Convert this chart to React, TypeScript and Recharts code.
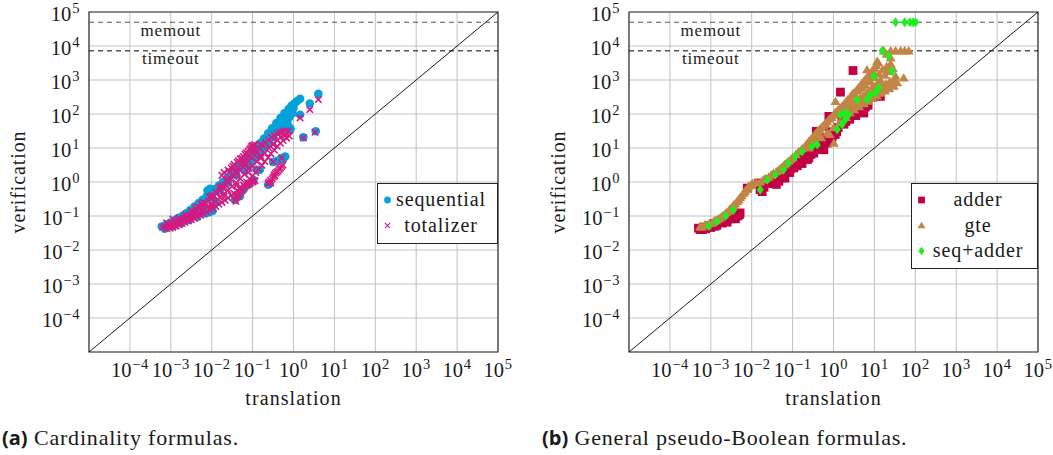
import React from "react";
import {
  ScatterChart,
  Scatter,
  XAxis,
  YAxis,
  CartesianGrid,
  ReferenceLine,
  ReferenceArea,
} from "recharts";

// axis decades (both axes are log10, 1e-5 .. 1e5)
const DOMAIN: [number, number] = [1e-5, 1e5];
const DECADES = [1e-4, 1e-3, 1e-2, 1e-1, 1, 1e1, 1e2, 1e3, 1e4, 1e5];
const TIMEOUT = 7200;
const MEMOUT = 50000;
const LIMIT_LABEL_AT = 1e-3;

// (a) cardinality formulas: [translation, verification] in seconds
const sequential: [number, number][] = [
  [6.0e-4, 0.049], [7.6e-4, 0.055], [9.5e-4, 0.063], [1.2e-3, 0.074], [1.5e-3, 0.087],
  [1.9e-3, 0.1], [2.4e-3, 0.12], [3.0e-3, 0.15], [3.8e-3, 0.19], [4.8e-3, 0.24],
  [6.0e-3, 0.3], [7.6e-3, 0.38], [9.5e-3, 0.48], [0.012, 0.62], [0.015, 0.79],
  [0.019, 1.02], [0.024, 1.32], [0.03, 1.7], [0.038, 2.2], [0.048, 2.9],
  [0.06, 3.8], [0.076, 5.0], [0.095, 6.8], [0.12, 9.5], [0.15, 13.5],
  [0.19, 19], [0.24, 27], [0.3, 38], [0.38, 54], [0.48, 76],
  [0.6, 105], [0.76, 141], [0.89, 174], [1.05, 204], [1.23, 240], [1.45, 282],
  [1.58e-3, 0.076], [2.5e-3, 0.105], [4.0e-3, 0.15], [6.3e-3, 0.22], [0.01, 0.355],
  [0.0158, 0.575], [0.025, 0.95], [0.04, 1.58], [0.063, 2.7],
  [0.063, 2.2], [0.079, 2.95], [0.1, 4.0], [0.126, 5.5], [0.158, 7.6],
  [0.2, 10.5], [0.25, 14.8], [0.32, 21], [0.4, 30], [0.5, 42],
  [0.63, 59], [0.79, 79], [0.95, 105], [0.68, 56], [0.72, 50], [0.8, 40], [0.85, 36],
  [0.14, 11], [0.22, 16], [0.35, 32], [0.55, 65], [0.7, 90], [0.85, 120], [1.0, 150],
  [0.17, 15], [0.27, 24], [0.43, 45], [0.6, 75], [0.9, 130],
  [7.1e-4, 0.042], [1.12e-3, 0.05], [1.78e-3, 0.06], [2.8e-3, 0.076], [4.5e-3, 0.095],
  [7.1e-3, 0.12], [8.7e-3, 0.13], [0.0105, 0.14], [0.0126, 0.25], [9.1e-3, 0.63], [7.9e-3, 0.56],
  [0.037, 0.3], [0.049, 0.38], [0.06, 0.6], [0.08, 0.85], [0.105, 1.17], [0.126, 2.3], [0.15, 2.3],
  [0.24, 0.83], [0.26, 0.87], [0.32, 3.9], [0.4, 4.2], [0.51, 5.1], [0.56, 4.8], [0.63, 5.6],
  [4.05, 390], [2.5, 203], [1.45, 95], [3.5, 31], [1.74, 20.6],
];

const totalizer: [number, number][] = [
  [6.3e-4, 0.047], [7.4e-4, 0.049], [8.7e-4, 0.052], [1.02e-3, 0.056], [1.2e-3, 0.06],
  [1.41e-3, 0.066], [1.66e-3, 0.072], [1.95e-3, 0.079], [2.3e-3, 0.089], [2.7e-3, 0.1],
  [3.2e-3, 0.112], [3.7e-3, 0.129], [4.4e-3, 0.148], [5.1e-3, 0.17], [6.0e-3, 0.2],
  [7.1e-3, 0.234], [8.3e-3, 0.275], [9.8e-3, 0.32], [0.0115, 0.39], [0.0135, 0.47],
  [0.0158, 0.56], [0.0186, 0.68], [0.0219, 0.81], [0.0257, 1.0], [0.03, 1.2],
  [0.035, 1.48], [0.042, 1.82], [0.049, 2.24], [0.058, 2.75], [0.068, 3.4],
  [0.079, 4.2], [0.093, 5.1], [0.11, 6.3], [0.129, 7.8], [0.151, 9.5],
  [0.178, 11.7], [0.209, 14.5], [0.245, 17.4], [0.288, 20.4], [0.339, 23.4],
  [0.4, 26.3], [0.468, 28.8], [0.55, 30.9], [0.646, 31.6], [0.74, 30.9],
  [7.9e-4, 0.063], [1.12e-3, 0.081], [1.58e-3, 0.087], [2.24e-3, 0.11], [3.16e-3, 0.141],
  [4.5e-3, 0.19], [5.6e-3, 0.23], [8.9e-3, 0.37], [0.0126, 0.51], [0.0178, 0.79],
  [0.0224, 1.1], [0.0316, 1.66], [0.0447, 2.63], [0.056, 3.55], [0.079, 5.5],
  [0.112, 8.3], [0.158, 12.6],
  [1.58e-3, 0.062], [2.0e-3, 0.071], [2.5e-3, 0.079], [3.2e-3, 0.093], [4.0e-3, 0.11],
  [5.0e-3, 0.132], [6.3e-3, 0.155], [7.9e-3, 0.186], [0.01, 0.23], [0.0126, 0.275],
  [0.0158, 0.355], [0.02, 0.45], [0.025, 0.575], [0.0316, 0.74], [0.04, 0.95],
  [0.05, 1.26], [0.063, 1.7], [0.079, 2.5], [0.1, 2.95], [0.126, 4.0],
  [0.158, 5.9], [0.2, 7.1], [0.25, 10], [0.316, 13.2], [0.4, 17], [0.5, 21.4], [0.63, 25],
  [4.0e-3, 0.166], [6.3e-3, 0.25], [0.01, 0.4], [0.0158, 0.71], [0.025, 1.2],
  [0.04, 2.14], [0.063, 4.0], [0.1, 7.6],
  [7.9e-4, 0.042], [1.12e-3, 0.047], [1.58e-3, 0.055], [2.2e-3, 0.065], [3.2e-3, 0.078],
  [4.5e-3, 0.095], [6.3e-3, 0.117], [8.9e-3, 0.148], [0.0126, 0.19], [0.0178, 0.25],
  [0.025, 0.34], [0.035, 0.47], [0.05, 0.68], [0.071, 1.0], [0.1, 1.5],
  [0.141, 2.4], [0.2, 4.0], [0.28, 6.8], [0.4, 11.2], [0.56, 16.6], [0.79, 22.4],
  [9.5e-4, 0.044], [1.35e-3, 0.05], [1.9e-3, 0.06], [2.7e-3, 0.071], [3.8e-3, 0.085],
  [5.4e-3, 0.105], [7.6e-3, 0.132], [0.0107, 0.166], [0.015, 0.22], [0.0214, 0.29],
  [0.03, 0.4], [0.0427, 0.56], [0.06, 0.81], [0.085, 1.23], [0.12, 1.9],
  [0.17, 3.1], [0.24, 5.2], [0.34, 8.7], [0.48, 13.8], [0.68, 19.5],
  [1.26e-3, 0.052], [2.5e-3, 0.076], [5.0e-3, 0.117], [0.01, 0.2], [0.02, 0.38],
  [0.04, 0.79], [0.079, 1.9], [0.158, 5.0], [0.32, 12.6], [0.63, 25],
  [0.0178, 1.58], [0.025, 2.24], [0.035, 3.3], [0.05, 4.8], [0.071, 7.2], [0.095, 11.2], [0.112, 12.6],
  [0.03, 2.6], [0.042, 3.8], [0.06, 5.6], [0.085, 9.0],
  [0.02, 1.9], [0.028, 2.0], [0.033, 2.9], [0.045, 4.2], [0.055, 5.0], [0.065, 6.6],
  [0.078, 8.0], [0.09, 10.0], [0.1, 12], [0.105, 9.5],
  [0.037, 0.3], [0.04, 0.35], [0.044, 0.38], [0.051, 0.5], [0.06, 0.63], [0.071, 0.79],
  [0.083, 0.91], [0.1, 1.0], [0.115, 1.1],
  [0.039, 0.27], [0.042, 0.42], [0.047, 0.44], [0.055, 0.55], [0.065, 0.72], [0.077, 0.85],
  [0.09, 0.95], [0.105, 1.05],
  [0.24, 0.89], [0.275, 1.12], [0.32, 1.4], [0.36, 1.8], [0.42, 2.1], [0.48, 2.6],
  [0.55, 3.2], [0.32, 3.9], [0.51, 5.1],
  [0.25, 1.0], [0.28, 0.95], [0.3, 1.25], [0.34, 1.6], [0.35, 1.5], [0.39, 1.95],
  [0.45, 2.35], [0.52, 2.9],
  [4.05, 266], [2.5, 135], [1.45, 77], [3.36, 29], [1.74, 19.8],
];

// (b) general pseudo-Boolean formulas
const adder: [number, number][] = [
  [5.0e-4, 0.044], [6.6e-4, 0.047], [8.9e-4, 0.052], [1.2e-3, 0.06], [1.58e-3, 0.071],
  [2.1e-3, 0.083], [2.75e-3, 0.1], [3.5e-3, 0.112], [4.4e-3, 0.12], [5.2e-3, 0.123],
  [6.3e-4, 0.04], [1.26e-3, 0.05], [2.5e-3, 0.066], [4.0e-3, 0.083],
  [5.5e-4, 0.04], [7.5e-4, 0.042], [1.0e-3, 0.046], [1.4e-3, 0.053], [1.9e-3, 0.062],
  [2.4e-3, 0.072], [3.0e-3, 0.082], [3.8e-3, 0.092], [4.6e-3, 0.1], [5.0e-3, 0.11],
  [7.8e-3, 0.66], [0.0148, 0.93], [0.016, 0.6], [0.018, 0.52], [0.026, 1.17], [0.04, 0.85],
  [0.046, 1.05], [0.06, 1.5], [0.074, 2.0], [0.09, 2.5], [0.107, 2.6], [0.117, 4.1],
  [0.14, 4.0], [0.186, 6.3], [0.2, 6.0], [0.23, 4.6], [0.25, 5.1], [0.3, 9.0], [0.33, 7.1],
  [0.275, 12.6], [0.4, 11.2], [0.45, 15], [0.58, 8.9], [0.6, 20], [0.8, 30], [0.93, 22],
  [0.02, 0.7], [0.03, 0.9], [0.035, 1.3], [0.055, 1.6], [0.065, 1.3], [0.085, 1.9],
  [0.1, 3.2], [0.13, 3.0], [0.16, 4.5], [0.17, 3.5], [0.22, 7.5], [0.28, 6.5], [0.35, 9.5],
  [0.5, 12], [0.5, 9], [0.7, 14], [0.9, 18], [1.1, 25], [1.3, 40], [1.6, 60], [2.0, 60],
  [2.2, 90], [3.0, 110], [4.0, 130], [5.0, 150], [7.0, 180],
  [1.2, 30], [1.78, 77], [1.8, 50], [2.5, 70], [3.5, 90], [4.6, 170], [5.5, 107], [6.0, 160],
  [14, 330], [0.38, 31], [0.77, 85], [1.48, 440], [3.0, 1900],
];

const gte: [number, number][] = [
  [5.5e-4, 0.049], [7.1e-4, 0.054], [9.1e-4, 0.06], [1.17e-3, 0.069], [1.5e-3, 0.081],
  [1.9e-3, 0.1], [2.4e-3, 0.126], [2.95e-3, 0.162], [3.6e-3, 0.21], [4.4e-3, 0.27],
  [5.2e-3, 0.35], [6.3e-3, 0.47], [7.4e-3, 0.6], [8.5e-3, 0.76], [0.0105, 0.91],
  [6.0e-4, 0.047], [8.0e-4, 0.052], [1.05e-3, 0.062], [1.35e-3, 0.073], [1.7e-3, 0.088],
  [2.15e-3, 0.11], [2.7e-3, 0.14], [3.3e-3, 0.18], [4.0e-3, 0.23], [4.8e-3, 0.3],
  [5.7e-3, 0.4], [6.8e-3, 0.52], [8.0e-3, 0.66], [9.5e-3, 0.8],
  [0.022, 1.26], [0.03, 1.6], [0.04, 2.0], [0.05, 2.5], [0.063, 3.2], [0.08, 4.1], [0.1, 5.2],
  [0.141, 7.9], [0.2, 11.2], [0.25, 15.8], [0.32, 22], [0.4, 30], [0.5, 40],
  [0.63, 52], [0.79, 71], [1.0, 93], [1.26, 126], [1.58, 166], [2.0, 224],
  [2.5, 300], [3.2, 417], [4.0, 575], [5.0, 794], [6.3, 1120], [7.9, 1580], [10, 2240], [12.6, 3160],
  [0.013, 0.95], [0.016, 1.0], [0.019, 1.15], [0.026, 1.4], [0.034, 1.8], [0.045, 2.2],
  [0.056, 2.8], [0.07, 3.6], [0.09, 4.6], [0.12, 6.5], [0.17, 9.5], [0.22, 13], [0.28, 18],
  [0.36, 26], [0.45, 35], [0.56, 46], [0.7, 60], [0.9, 80], [1.1, 110], [1.4, 145],
  [1.8, 195], [2.2, 260], [2.8, 360], [3.6, 490], [4.5, 680], [5.6, 950], [7.1, 1350],
  [8.9, 1900], [11, 2700],
  [0.25, 10], [0.355, 14], [0.5, 20], [0.71, 28], [1.0, 40], [1.41, 56], [2.0, 79],
  [1.02, 14], [0.8, 25],
  [2.5, 110], [3.2, 135], [4.2, 165], [5.5, 200], [7, 240], [9, 290], [11.5, 340],
  [14.5, 410], [18, 480], [23, 560], [30, 660], [36, 830],
  [1.5, 100], [1.8, 130], [2.2, 160], [2.8, 190], [3.5, 230], [4.5, 300], [6, 350],
  [7.5, 400], [9.5, 480], [12, 560], [15, 650], [19, 760], [24, 900], [30, 1000],
  [4, 220], [6, 280], [8, 340], [11, 420], [14, 520], [18, 620], [22, 740],
  [1.12, 234], [2.6, 263], [4.6, 660], [6.6, 2000], [11.7, 3550], [20, 5800], [25, 4470],
  [3, 400], [4, 500], [5, 600], [6, 700], [8, 900], [10, 1200], [13, 1500], [16, 2000],
  [20, 2500], [25, 3000], [28, 2200], [22, 1800], [18, 1400], [14, 1000], [12, 800],
  [9, 650], [7, 450], [5.5, 350], [4.5, 280], [52, 1150], [33, 1300],
  [17, 7200], [25, 7200], [33, 7200], [44, 7200], [55, 7200], [69, 7200],
];

const seqAdder: [number, number][] = [
  [8.9e-4, 0.051], [1.41e-3, 0.069], [2.3e-3, 0.102], [3.6e-3, 0.151],
  [0.0162, 0.59], [0.024, 1.17], [0.038, 1.66], [0.06, 2.3], [0.079, 3.6],
  [0.117, 5.6], [0.17, 7.9], [0.3, 11.2], [0.4, 12.6],
  [1.23, 35], [1.62, 49], [1.48, 95], [1.95, 69], [1.95, 107], [2.34, 95],
  [3.8, 263], [6.6, 263], [7.9, 370], [10.7, 417], [12.9, 590], [9.8, 1290],
  [27, 1820], [22, 5000], [15.5, 7200],
  [33, 50000], [55, 50000], [74, 50000], [89, 50000], [102, 50000],
];

const SERIF = '"Liberation Serif", "Times New Roman", serif';
const INK = "#1a1a1a";
const COLORS = {
  sequential: "#04a2db",
  totalizer: "#d41a80",
  adder: "#c10046",
  gte: "#c38545",
  seqAdder: "#1bf01b",
};

const CHART_W = 525;
const CHART_H = 415;
const Y_AXIS_W = 89;
const X_AXIS_H = 63;

const toPoints = (rows: [number, number][]) => rows.map(([x, y]) => ({ x, y }));

function expLabel(v: number) {
  const e = Math.round(Math.log10(v));
  return e < 0 ? `\u2212${-e}` : String(e);
}

function XTick(props: any) {
  const { x, y, payload } = props;
  return (
    <text x={x} y={y + 25} textAnchor="middle" fontFamily={SERIF} fontSize={20.5} fill={INK}>
      <tspan>10</tspan>
      <tspan dx={0.8} dy={-8} fontSize={14.5} letterSpacing={0.6}>
        {expLabel(payload.value)}
      </tspan>
    </text>
  );
}

function YTick(props: any) {
  const { x, y, payload } = props;
  return (
    <text x={x - 9} y={y + 9.3} textAnchor="end" fontFamily={SERIF} fontSize={20.5} fill={INK}>
      <tspan>10</tspan>
      <tspan dx={0.8} dy={-8} fontSize={14.5} letterSpacing={0.6}>
        {expLabel(payload.value)}
      </tspan>
    </text>
  );
}

function limitLabel(text: string) {
  return (props: any) => {
    const vb = props.viewBox || {};
    const frac =
      (Math.log10(LIMIT_LABEL_AT) - Math.log10(DOMAIN[0])) /
      (Math.log10(DOMAIN[1]) - Math.log10(DOMAIN[0]));
    return (
      <text
        x={vb.x + vb.width * frac}
        y={vb.y + 13.5}
        textAnchor="middle"
        fontFamily={SERIF}
        fontSize={17}
        letterSpacing={0.8}
        fill={INK}
      >
        {text}
      </text>
    );
  };
}

const xLabel = (props: any) => {
  const vb = props.viewBox || {};
  return (
    <text
      x={vb.x + vb.width / 2}
      y={405}
      textAnchor="middle"
      fontFamily={SERIF}
      fontSize={20}
      letterSpacing={1.1}
      fill={INK}
    >
      translation
    </text>
  );
};

const yLabel = (props: any) => {
  const vb = props.viewBox || {};
  const cy = vb.y + vb.height / 2;
  return (
    <text
      x={25}
      y={cy}
      transform={`rotate(-90 25 ${cy})`}
      textAnchor="middle"
      fontFamily={SERIF}
      fontSize={20}
      letterSpacing={0.9}
      fill={INK}
    >
      verification
    </text>
  );
};

// marker shapes
const circleMark = (color: string, r: number) => (p: any) => (
  <circle cx={p.cx} cy={p.cy} r={r} fill={color} />
);
const crossMark = (color: string, h: number, w = 1.3) => (p: any) => (
  <path
    d={`M${p.cx - h},${p.cy - h}L${p.cx + h},${p.cy + h}M${p.cx - h},${p.cy + h}L${p.cx + h},${p.cy - h}`}
    stroke={color}
    strokeWidth={w}
    fill="none"
  />
);
const squareMark = (color: string, h: number) => (p: any) => (
  <rect x={p.cx - h} y={p.cy - h} width={2 * h} height={2 * h} fill={color} />
);
const triangleMark = (color: string, h: number) => (p: any) => (
  <polygon
    points={`${p.cx},${p.cy - h} ${p.cx - h * 1.05},${p.cy + h * 0.75} ${p.cx + h * 1.05},${p.cy + h * 0.75}`}
    fill={color}
  />
);
const diamondMark = (color: string, h: number) => (p: any) => (
  <polygon
    points={`${p.cx},${p.cy - h} ${p.cx + h * 0.7},${p.cy} ${p.cx},${p.cy + h} ${p.cx - h * 0.7},${p.cy}`}
    fill={color}
  />
);

type SeriesDef = {
  name: string;
  rows: [number, number][];
  plotShape: (p: any) => React.ReactElement;
  legendShape: (p: any) => React.ReactElement;
};

function LogPlot({ series }: { series: SeriesDef[] }) {
  return (
    <ScatterChart
      width={CHART_W}
      height={CHART_H}
      margin={{ top: 12, right: CHART_W - Y_AXIS_W - 409, bottom: 0, left: 0 }}
    >
      <CartesianGrid stroke="#c2c2c2" strokeWidth={1} />
      <XAxis
        type="number"
        dataKey="x"
        scale="log"
        domain={DOMAIN}
        ticks={DECADES}
        interval={0}
        allowDataOverflow
        axisLine={false}
        tickLine={false}
        tickSize={0}
        tickMargin={0}
        height={X_AXIS_H}
        tick={(p: any) => <XTick {...p} />}
        label={xLabel}
      />
      <YAxis
        type="number"
        dataKey="y"
        scale="log"
        domain={DOMAIN}
        ticks={DECADES}
        interval={0}
        allowDataOverflow
        axisLine={false}
        tickLine={false}
        tickSize={0}
        tickMargin={0}
        width={Y_AXIS_W}
        tick={(p: any) => <YTick {...p} />}
        label={yLabel}
      />
      <ReferenceArea
        x1={DOMAIN[0]}
        x2={DOMAIN[1]}
        y1={DOMAIN[0]}
        y2={DOMAIN[1]}
        fill="none"
        stroke="#333"
        strokeWidth={1.2}
        fillOpacity={0}
      />
      <ReferenceLine
        segment={[
          { x: DOMAIN[0], y: DOMAIN[0] },
          { x: DOMAIN[1], y: DOMAIN[1] },
        ]}
        stroke="#000"
        strokeWidth={0.9}
      />
      <ReferenceLine
        y={MEMOUT}
        stroke="#555"
        strokeWidth={1}
        strokeDasharray="5 4"
        label={limitLabel("memout")}
      />
      <ReferenceLine
        y={TIMEOUT}
        stroke="#000"
        strokeWidth={1}
        strokeDasharray="5 4"
        label={limitLabel("timeout")}
      />
      {series.map((s) => (
        <Scatter
          key={s.name}
          name={s.name}
          data={toPoints(s.rows)}
          shape={s.plotShape}
          isAnimationActive={false}
        />
      ))}
    </ScatterChart>
  );
}

function LegendBox({
  left,
  width,
  height,
  textX,
  series,
}: {
  left: number;
  width: number;
  height: number;
  textX: number;
  series: SeriesDef[];
}) {
  return (
    <div
      style={{
        position: "absolute",
        left,
        top: 183,
        width,
        height,
        border: "1px solid #222",
        background: "#fff",
        boxSizing: "border-box",
      }}
    >
      <svg width={width - 2} height={height - 2} style={{ display: "block" }}>
        {series.map((s, i) => {
          const cy = 16 + i * 25.5;
          return (
            <g key={s.name}>
              {s.legendShape({ cx: 9.5, cy })}
              <text
                x={textX}
                y={cy + 6}
                textAnchor="middle"
                fontFamily={SERIF}
                fontSize={20}
                letterSpacing={0.9}
                fill={INK}
              >
                {s.name}
              </text>
            </g>
          );
        })}
      </svg>
    </div>
  );
}

function Caption({ left, tag, text }: { left: number; tag: string; text: string }) {
  return (
    <div
      style={{
        position: "absolute",
        left,
        top: 427,
        lineHeight: "22px",
        fontSize: 22,
        fontFamily: SERIF,
        letterSpacing: 0.8,
        color: INK,
        whiteSpace: "nowrap",
      }}
    >
      <span style={{ fontFamily: '"Open Sans", sans-serif', fontWeight: 700, fontSize: 20, letterSpacing: 0 }}>
        {tag}
      </span>{" "}
      {text}
    </div>
  );
}

const cardinalitySeries: SeriesDef[] = [
  {
    name: "sequential",
    rows: sequential,
    plotShape: circleMark(COLORS.sequential, 4.3),
    legendShape: circleMark(COLORS.sequential, 3.4),
  },
  {
    name: "totalizer",
    rows: totalizer,
    plotShape: crossMark(COLORS.totalizer, 3.2, 1.6),
    legendShape: crossMark(COLORS.totalizer, 2.6, 1.1),
  },
];

const pbSeries: SeriesDef[] = [
  {
    name: "adder",
    rows: adder,
    plotShape: squareMark(COLORS.adder, 4.4),
    legendShape: squareMark(COLORS.adder, 3.4),
  },
  {
    name: "gte",
    rows: gte,
    plotShape: triangleMark(COLORS.gte, 4.8),
    legendShape: triangleMark(COLORS.gte, 3.8),
  },
  {
    name: "seq+adder",
    rows: seqAdder,
    plotShape: diamondMark(COLORS.seqAdder, 5),
    legendShape: diamondMark(COLORS.seqAdder, 4.2),
  },
];

export default function App() {
  return (
    <div
      style={{
        position: "absolute",
        left: 0,
        top: 0,
        width: 1053,
        height: 455,
        background: "#fff",
        overflow: "hidden",
      }}
    >
      <div style={{ position: "absolute", left: 0, top: 0 }}>
        <LogPlot series={cardinalitySeries} />
      </div>
      <div style={{ position: "absolute", left: 540, top: 0 }}>
        <LogPlot series={pbSeries} />
      </div>
      <LegendBox left={377} width={121} height={61} textX={63} series={cardinalitySeries} />
      <LegendBox left={911} width={127} height={86} textX={66} series={pbSeries} />
      <Caption left={2} tag="(a)" text="Cardinality formulas." />
      <Caption left={542} tag="(b)" text="General pseudo-Boolean formulas." />
    </div>
  );
}
